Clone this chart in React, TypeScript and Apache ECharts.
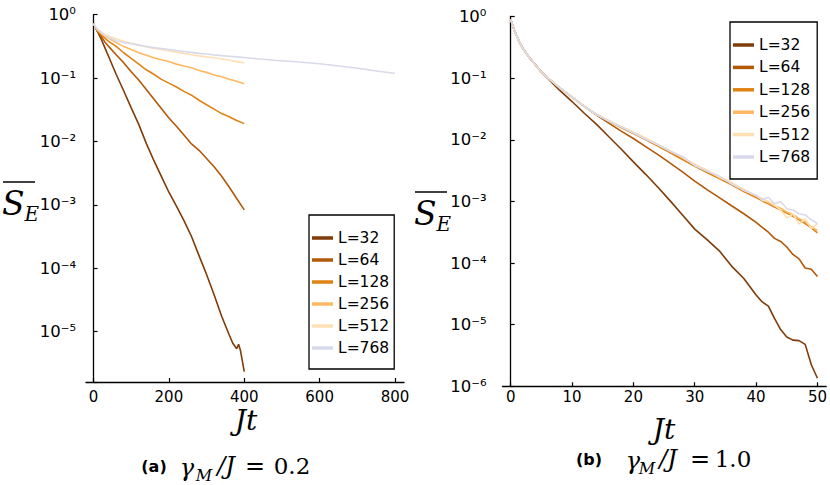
import React, { useEffect, useRef } from 'react';
import * as echarts from 'echarts';

const names = ['L=32', 'L=64', 'L=128', 'L=256', 'L=512', 'L=768'];
const colors = ['#7f3b08', '#b35806', '#e08214', '#fdb863', '#fee0b6', '#d8daeb'];

// ---- panel (a): gamma_M/J = 0.2 ----
const tA = [0, 5, 10, 20, 30, 40, 60, 80, 100, 120, 140, 160, 180, 200, 220, 240, 260, 280, 300, 320, 340, 360, 380, 400];
const tA32 = [0, 5, 10, 20, 30, 40, 60, 80, 100, 120, 140, 160, 180, 200, 220, 240, 260, 280, 300, 320, 340, 360, 370, 380, 385, 390, 400];
const tA768 = [0, 5, 10, 20, 30, 40, 60, 80, 100, 120, 140, 160, 180, 200, 220, 240, 260, 280, 300, 320, 340, 360, 380, 400, 440, 480, 520, 560, 600, 640, 680, 720, 760, 800];
const a32 = [0.724, 0.631, 0.55, 0.417, 0.302, 0.219, 0.115, 0.0631, 0.0339, 0.0186, 0.00933, 0.00501, 0.00282, 0.00158, 0.000955, 0.000562, 0.000316, 0.000158, 0.0000794, 0.000038, 0.0000174, 0.00000891, 0.00000646, 0.00000537, 0.00000631, 0.00000501, 0.00000234];
const a64 = [0.724, 0.631, 0.55, 0.457, 0.372, 0.316, 0.234, 0.174, 0.126, 0.0933, 0.0661, 0.0468, 0.0331, 0.0234, 0.0174, 0.0126, 0.00912, 0.00724, 0.00537, 0.00398, 0.00282, 0.00191, 0.00126, 0.000832];
const a128 = [0.724, 0.631, 0.562, 0.49, 0.427, 0.38, 0.316, 0.251, 0.204, 0.166, 0.135, 0.115, 0.0955, 0.0832, 0.0724, 0.0617, 0.0537, 0.0447, 0.038, 0.0324, 0.0275, 0.0245, 0.0214, 0.0191];
const a256 = [0.724, 0.631, 0.575, 0.513, 0.457, 0.427, 0.363, 0.316, 0.282, 0.251, 0.229, 0.209, 0.195, 0.182, 0.166, 0.155, 0.145, 0.132, 0.123, 0.112, 0.105, 0.0955, 0.0891, 0.0813];
const a512 = [0.724, 0.646, 0.603, 0.537, 0.49, 0.457, 0.417, 0.38, 0.355, 0.331, 0.309, 0.295, 0.282, 0.269, 0.257, 0.245, 0.234, 0.224, 0.216, 0.209, 0.2, 0.191, 0.182, 0.174];
const a768 = [0.724, 0.646, 0.589, 0.525, 0.468, 0.437, 0.389, 0.363, 0.347, 0.331, 0.316, 0.302, 0.292, 0.282, 0.272, 0.263, 0.254, 0.245, 0.24, 0.232, 0.226, 0.221, 0.216, 0.211, 0.2, 0.191, 0.184, 0.176, 0.168, 0.158, 0.148, 0.138, 0.127, 0.119];

// ---- panel (b): gamma_M/J = 1.0 ----
const tB = [0, 0.5, 1, 1.5, 2, 3, 4, 5, 6, 8, 10, 12, 14, 16, 18, 20, 22, 24, 26, 28, 30, 32, 34, 36, 38, 40, 41, 42, 43, 44, 45, 46, 47, 48, 49, 50];
const b32 = [0.891, 0.631, 0.479, 0.372, 0.302, 0.219, 0.166, 0.126, 0.1, 0.0631, 0.0417, 0.0269, 0.0178, 0.0112, 0.00708, 0.00437, 0.00275, 0.0017, 0.00102, 0.000603, 0.000355, 0.00024, 0.000158, 0.0000891, 0.0000562, 0.0000302, 0.0000234, 0.00002, 0.0000126, 0.00000832, 0.00000631, 0.00000562, 0.0000055, 0.00000479, 0.00000224, 0.00000135];
const b64 = [0.891, 0.631, 0.479, 0.372, 0.302, 0.219, 0.166, 0.126, 0.102, 0.0692, 0.049, 0.0347, 0.0251, 0.0186, 0.0138, 0.0105, 0.00776, 0.00575, 0.00417, 0.00302, 0.00214, 0.00155, 0.00115, 0.000851, 0.000631, 0.000457, 0.00038, 0.000316, 0.000251, 0.000224, 0.000182, 0.000138, 0.000117, 0.0000832, 0.0000794, 0.0000603];
const b128 = [0.891, 0.631, 0.479, 0.372, 0.302, 0.219, 0.166, 0.126, 0.102, 0.0692, 0.049, 0.0347, 0.0257, 0.02, 0.0158, 0.0126, 0.01, 0.00794, 0.00617, 0.00479, 0.00372, 0.00295, 0.00234, 0.00186, 0.00145, 0.00115, 0.00102, 0.000912, 0.000813, 0.000724, 0.000646, 0.000575, 0.000501, 0.000437, 0.000372, 0.000309];
const b256 = [0.891, 0.631, 0.479, 0.372, 0.302, 0.219, 0.166, 0.126, 0.102, 0.0692, 0.049, 0.0347, 0.0257, 0.0204, 0.0162, 0.0132, 0.0105, 0.00832, 0.00661, 0.00513, 0.00398, 0.00316, 0.00251, 0.002, 0.00155, 0.00123, 0.0011, 0.000977, 0.000851, 0.000776, 0.000676, 0.000617, 0.000525, 0.000468, 0.000389, 0.000339];
const b512 = [0.891, 0.631, 0.479, 0.372, 0.302, 0.219, 0.166, 0.126, 0.102, 0.0692, 0.049, 0.0347, 0.0257, 0.0204, 0.0162, 0.0132, 0.0107, 0.00832, 0.00661, 0.00525, 0.00389, 0.00324, 0.00245, 0.00204, 0.00151, 0.00126, 0.00105, 0.001, 0.000871, 0.000724, 0.000537, 0.000631, 0.000427, 0.000525, 0.000363, 0.000437];
const b768 = [0.891, 0.631, 0.479, 0.372, 0.302, 0.219, 0.166, 0.126, 0.102, 0.0692, 0.049, 0.0347, 0.0257, 0.02, 0.0162, 0.0129, 0.0102, 0.00832, 0.00646, 0.00537, 0.0038, 0.00309, 0.00257, 0.00191, 0.00151, 0.00126, 0.00105, 0.00117, 0.000912, 0.001, 0.000759, 0.000724, 0.000631, 0.000603, 0.000501, 0.000437];

const xTicksA = [0, 200, 400, 600, 800];
const xTicksB = [0, 10, 20, 30, 40, 50];

const seriesA = [
  [tA32, a32], [tA, a64], [tA, a128], [tA, a256], [tA, a512], [tA768, a768],
];
const seriesB = [
  [tB, b32], [tB, b64], [tB, b128], [tB, b256], [tB, b512], [tB, b768],
];

const LABEL_FONT = 'DejaVu Sans';
const SERIF = 'DejaVu Serif';

const SUP: Record<string, string> = { '0': '\u2070', '1': '\u00b9', '2': '\u00b2', '3': '\u00b3', '4': '\u2074', '5': '\u2075', '6': '\u2076', '-': '\u207b' };

function logLabel(v: number) {
  const l = Math.log10(v);
  const e = Math.round(l);
  if (Math.abs(l - e) > 1e-6) return '';
  return '10' + String(e).split('').map((c) => SUP[c] || c).join('');
}

function yAxis(gridIndex: number, min: number, max: number, margin: number) {
  return {
    type: 'log',
    gridIndex,
    min,
    max,
    logBase: 10,
    splitNumber: 6,
    axisLine: { show: true, lineStyle: { color: '#000', width: 1.3 } },
    axisTick: { show: true, inside: true, length: 4, lineStyle: { color: '#000', width: 1.2 } },
    splitLine: { show: false },
    minorTick: { show: false },
    axisLabel: { margin, formatter: logLabel, color: '#000', fontSize: 16.5, fontFamily: LABEL_FONT },
  };
}

function xAxis(gridIndex: number, min: number, max: number, ticks: number[], margin: number) {
  return {
    type: 'value',
    gridIndex,
    min,
    max,
    axisLine: { show: true, onZero: false, lineStyle: { color: '#000', width: 1.3 } },
    axisTick: { show: true, inside: true, length: 4, customValues: ticks, lineStyle: { color: '#000', width: 1.2 } },
    splitLine: { show: false },
    axisLabel: {
      margin,
      customValues: ticks,
      fontSize: 15,
      fontFamily: LABEL_FONT,
      color: '#000',
    },
  };
}

function legend(left: number, top: number, padding: number[], itemGap: number) {
  return {
    orient: 'vertical',
    left,
    top,
    data: names,
    icon: 'rect',
    itemWidth: 21,
    itemHeight: 3.5,
    itemGap,
    padding,
    borderColor: '#000',
    borderWidth: 1.3,
    backgroundColor: '#fff',
    selectedMode: false,
    textStyle: { fontSize: 15.5, fontFamily: LABEL_FONT, color: '#000', lineHeight: 16 },
  };
}

function txt(x: number, y: number, text: string, size: number, italic: boolean, family = SERIF, weight = 'normal', align = 'center') {
  return {
    type: 'text',
    x,
    y,
    silent: true,
    style: {
      text,
      font: (italic ? 'italic ' : '') + weight + ' ' + size + 'px ' + family,
      fill: '#000',
      align,
      verticalAlign: 'middle',
    },
  };
}

function seTitle(x: number, y: number) {
  return {
    type: 'text',
    x,
    y,
    silent: true,
    style: {
      text: '{s|S}{e|E}',
      align: 'left',
      verticalAlign: 'middle',
      rich: {
        s: { fontSize: 33, fontFamily: SERIF, fontStyle: 'italic', fill: '#000', lineHeight: 42 },
        e: { fontSize: 20, fontFamily: SERIF, fontStyle: 'italic', fill: '#000', lineHeight: 20, verticalAlign: 'bottom' },
      },
    },
  };
}

export default function App() {
  const ref = useRef<HTMLDivElement>(null);
  useEffect(() => {
    if (!ref.current) return;
    const chart = echarts.init(ref.current, undefined, { renderer: 'svg' });
    const series: any[] = [];
    const build = (list: any[], axis: number) => {
      list.forEach(([t, v], i) => {
        series.push({
          name: names[i],
          type: 'line',
          xAxisIndex: axis,
          yAxisIndex: axis,
          showSymbol: false,
          symbol: 'none',
          data: (t as number[]).map((x, k) => [x, (v as number[])[k]]),
          lineStyle: { color: colors[i], width: 1.6 },
          itemStyle: { color: colors[i] },
        });
      });
    };
    build(seriesA, 0);
    build(seriesB, 1);
    chart.setOption({
      animation: false,
      backgroundColor: '#fff',
      grid: [
        { left: 86, top: 14.7, width: 318, height: 367.3 },
        { left: 502.5, top: 16.5, width: 324.5, height: 369.8 },
      ],
      xAxis: [xAxis(0, -20, 824, xTicksA, 7), xAxis(1, -1.333, 51.42, xTicksB, 3)],
      yAxis: [yAxis(0, 1.6e-6, 1, 10), yAxis(1, 1e-6, 1, 16)],
      legend: [legend(309, 215, [15, 5, 13, 3], 6), legend(730, 22, [15, 7, 14, 3], 6.4)],
      series,
      graphic: [
        // y-axis title panel (a)
        { type: 'line', silent: true, shape: { x1: 3, y1: 182, x2: 35, y2: 182 }, style: { stroke: '#000', lineWidth: 1.5 } },
        seTitle(2, 203),
        // y-axis title panel (b)
        { type: 'line', silent: true, shape: { x1: 415, y1: 192, x2: 447, y2: 192 }, style: { stroke: '#000', lineWidth: 1.5 } },
        seTitle(414, 213),
        // x-axis titles
        txt(246, 420, 'Jt', 28, true),
        txt(664, 429, 'Jt', 28, true),
        // caption (a)
        txt(154, 466, '(a)', 16, false, 'DejaVu Sans', 'bold'),
        txt(187, 468, '\u03b3', 24, true),
        txt(204, 475, 'M', 16, true),
        txt(226, 466, '/J', 24, true),
        txt(255, 466, '=', 24, false),
        txt(292, 466, '0.2', 23, false),
        // caption (b)
        txt(589, 459, '(b)', 16, false, 'DejaVu Sans', 'bold'),
        txt(633, 461, '\u03b3', 24, true),
        txt(647, 468, 'M', 16, true),
        txt(668, 459, '/J', 24, true),
        txt(700, 459, '=', 24, false),
        txt(733, 459, '1.0', 23, false),
      ],
    });
    return () => chart.dispose();
  }, []);
  return (
    <div
      ref={ref}
      style={{ position: 'fixed', left: 0, top: 0, width: 830, height: 485, background: '#fff' }}
    />
  );
}
